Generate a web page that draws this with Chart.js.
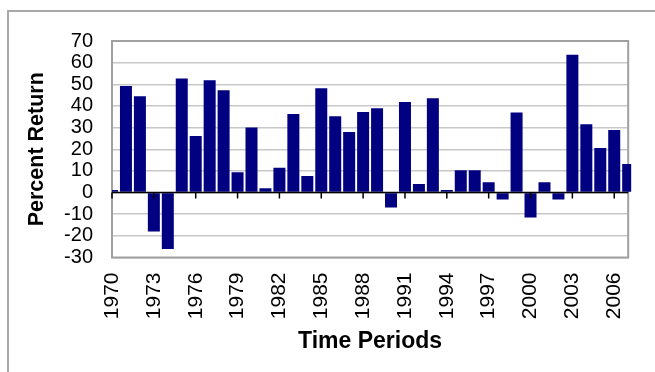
<!DOCTYPE html>
<html>
<head>
<meta charset="utf-8">
<script src="https://cdn.jsdelivr.net/npm/chart.js@4.4.0/dist/chart.umd.min.js"></script>
<style>
html, body { margin: 0; padding: 0; background: #fff; }
#wrap { position: relative; width: 655px; height: 372px; overflow: hidden; }
#frame { position: absolute; left: 7px; top: 10px; width: 700px; height: 400px;
         border-left: 2px solid #a8a8a8; border-top: 2px solid #a8a8a8; }
canvas { position: absolute; left: 0; top: 0; }
</style>
</head>
<body>
<div id="wrap">
  <div id="frame"></div>
  <canvas id="grafico" width="655" height="372"></canvas>
</div>
<script>
// years and returns
var anios = [1970, 1971, 1972, 1973, 1974, 1975, 1976, 1977, 1978, 1979,
             1980, 1981, 1982, 1983, 1984, 1985, 1986, 1987, 1988, 1989,
             1990, 1991, 1992, 1993, 1994, 1995, 1996, 1997, 1998, 1999,
             2000, 2001, 2002, 2003, 2004, 2005, 2006, 2007];
var retornos = [1.2, 49.2, 44.5, -18, -26.1, 52.7, 26.1, 51.9, 47.3, 9.4,
                30, 2, 11.4, 36.3, 7.7, 48.2, 35.3, 28, 37.2, 38.9,
                -6.9, 41.8, 4, 43.5, 1.2, 10.3, 10.3, 4.8, -3.2, 37,
                -11.5, 4.8, -3.2, 63.7, 31.5, 20.6, 28.9, 13.2];
var marcasX = [1970, 1973, 1976, 1979, 1982, 1985, 1988, 1991, 1994, 1997, 2000, 2003, 2006];
var marcasY = [-30, -20, -10, 0, 10, 20, 30, 40, 50, 60, 70];

var fuente = 'Arial, "Liberation Sans", sans-serif';

// plot frame, zero line and the small tick marks hanging from it
var marcos = {
    id: 'marcos',
    beforeDatasetsDraw: function(chart) {
        var a = chart.chartArea;
        var c = chart.ctx;
        c.save();
        c.strokeStyle = '#a0a0a0';
        c.lineWidth = 2;
        c.strokeRect(a.left, a.top, a.right - a.left, a.bottom - a.top);
        c.restore();
    },
    afterDatasetsDraw: function(chart) {
        var a = chart.chartArea;
        var c = chart.ctx;
        var y0 = chart.scales.y.getPixelForValue(0);
        c.save();
        c.strokeStyle = '#000';
        c.lineWidth = 1.5;
        c.beginPath();
        c.moveTo(a.left, y0);
        c.lineTo(a.right, y0);
        marcasX.forEach(function(v) {
            var x = chart.scales.x.getPixelForValue(v);
            c.moveTo(x, y0);
            c.lineTo(x, y0 + 6);
        });
        c.stroke();
        c.restore();
    }
};

var ctx = document.getElementById('grafico');
var mychart = new Chart(ctx, {
    type: 'bar',
    data: {
        datasets: [{
            data: anios.map(function(a, i) { return { x: a, y: retornos[i] }; }),
            backgroundColor: '#000080',
            borderWidth: 0,
            barPercentage: 0.86,
            categoryPercentage: 1,
            clip: { left: 0, top: 0, right: 3, bottom: 0 }
        }]
    },
    options: {
        responsive: false,
        animation: false,
        devicePixelRatio: 1,
        layout: { padding: { left: 0, top: 41, right: 21, bottom: 0 } },
        plugins: {
            legend: { display: false },
            tooltip: { enabled: false }
        },
        scales: {
            x: {
                type: 'linear',
                min: 1970,
                max: 2007,
                offset: false,
                grid: { display: false, drawTicks: false, offset: false },
                border: { display: false },
                afterBuildTicks: function(scale) {
                    scale.ticks = marcasX.map(function(v) { return { value: v }; });
                },
                ticks: {
                    autoSkip: false,
                    minRotation: 90,
                    maxRotation: 90,
                    padding: 15,
                    color: '#000',
                    font: { family: fuente, size: 21 },
                    callback: function(v) { return String(v); }
                },
                title: {
                    display: true,
                    text: 'Time Periods',
                    color: '#000',
                    font: { family: fuente, size: 23, weight: 'bold' },
                    padding: { top: 0, bottom: 16.5 }
                },
                afterFit: function(scale) { scale.height = 114.5; }
            },
            y: {
                min: -30,
                max: 70,
                afterBuildTicks: function(scale) {
                    scale.ticks = marcasY.map(function(v) { return { value: v }; });
                },
                grid: { color: '#c8c8c8', lineWidth: 1.5, drawTicks: false },
                border: { display: false },
                ticks: {
                    autoSkip: false,
                    padding: 19,
                    color: '#000',
                    font: { family: fuente, size: 20 }
                },
                title: {
                    display: true,
                    text: 'Percent Return',
                    color: '#000',
                    font: { family: fuente, size: 21.5, weight: 'bold' },
                    padding: { top: 24.6, bottom: 0 }
                },
                afterFit: function(scale) { scale.width = 112; }
            }
        }
    },
    plugins: [marcos]
});
</script>
</body>
</html>
